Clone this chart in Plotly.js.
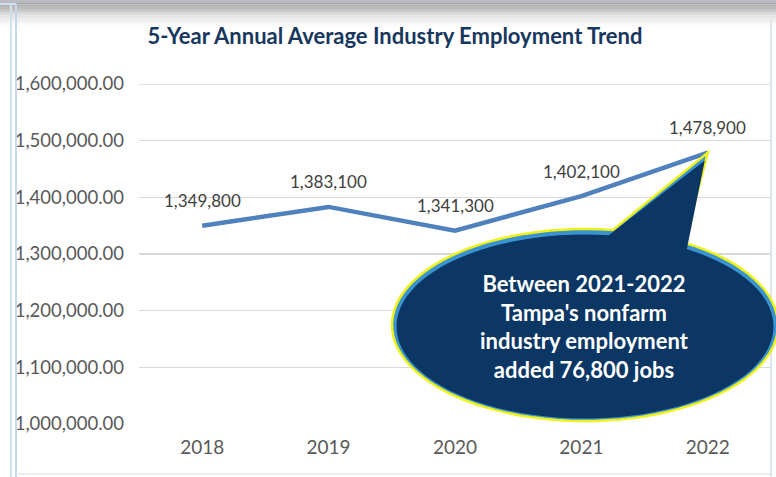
<!DOCTYPE html>
<html>
<head>
<meta charset="utf-8">
<script src="https://cdn.plot.ly/plotly-3.0.1.min.js"></script>
<style>
html,body{margin:0;padding:0;background:#fff;}
#chart{width:776px;height:477px;}
</style>
</head>
<body>
<div id="chart"></div>
<script>
// ---- data ----
var years = ['2018', '2019', '2020', '2021', '2022'];
var employment = [1349800, 1383100, 1341300, 1402100, 1478900];
var labelTexts = ['1,349,800', '1,383,100', '1,341,300', '1,402,100', '1,478,900'];
var yTicks = [1000000, 1100000, 1200000, 1300000, 1400000, 1500000, 1600000];
var titleText = '5-Year Annual Average Industry Employment Trend';
var calloutText = "Between 2021-2022<br>Tampa's nonfarm<br>industry employment<br>added 76,800 jobs";

// ---- geometry helpers (pixel -> paper) ----
var W = 776, H = 477;
var M = {l: 139, r: 5, t: 84, b: 53};
var PW = W - M.l - M.r, PH = H - M.t - M.b;
function X(px) { return (px - M.l) / PW; }
function Y(py) { return (H - M.b - py) / PH; }
var yMin = 1000000, yMax = 1600000;

// tip of callout = last data point (paper coords)
var lastIdx = years.length - 1;
var tipX = (lastIdx + 0.5) / years.length;
var tipY = (employment[lastIdx] - yMin) / (yMax - yMin);

function calloutPath(cx, cy, a, b, t0, t1, tx, ty) {
  var n = 90, s = '';
  for (var i = 0; i <= n; i++) {
    var t = t0 + (t1 - t0) * i / n;
    var px = cx + a * Math.cos(t), py = cy + b * Math.sin(t);
    s += (i === 0 ? 'M' : 'L') + X(px).toFixed(5) + ',' + Y(py).toFixed(5);
  }
  s += 'L' + tx.toFixed(5) + ',' + ty.toFixed(5) + 'Z';
  return s;
}
var tR = -1.03, tL = -1.425 + 2 * Math.PI;
var outer = calloutPath(585, 325, 193, 96, tR, tL, tipX, tipY);
var tipPxX = M.l + tipX * PW, tipPxY = H - M.b - tipY * PH;
var inner = calloutPath(585, 326.5, 188.5, 92, tR + 0.03, tL - 0.02, X(tipPxX - 3), Y(tipPxY + 8));

var shapes = [];
// top shadow band
var bandCols = ['#b9bcc4', '#a9a9a9', '#b0b0b0', '#bababa', '#c5c5c5', '#d0d0d0', '#dadada', '#e3e3e3', '#ebebeb', '#f1f1f1', '#f6f6f6', '#fafafa', '#fdfdfd'];
for (var i = 0; i < bandCols.length; i++) {
  shapes.push({type: 'rect', xref: 'paper', yref: 'paper', x0: X(0), x1: X(W), y0: Y(i * 2.2), y1: Y(i * 2.2 + 2.3),
    fillcolor: bandCols[i], line: {width: 0}, layer: 'below'});
}
// frame lines
shapes.push({type: 'line', xref: 'paper', yref: 'paper', x0: X(11), x1: X(11), y0: Y(4), y1: Y(H), line: {color: '#d3e0f0', width: 2}});
shapes.push({type: 'line', xref: 'paper', yref: 'paper', x0: X(16), x1: X(16), y0: Y(4), y1: Y(H), line: {color: '#c6d6ec', width: 2}});
shapes.push({type: 'line', xref: 'paper', yref: 'paper', x0: X(0), x1: X(16), y0: Y(4), y1: Y(4), line: {color: '#d3e0f0', width: 2}});
shapes.push({type: 'line', xref: 'paper', yref: 'paper', x0: X(771), x1: X(771), y0: Y(20), y1: Y(H), line: {color: '#dde5ef', width: 2}});
shapes.push({type: 'line', xref: 'paper', yref: 'paper', x0: X(16), x1: X(771), y0: Y(474), y1: Y(474), line: {color: '#e3e9f1', width: 1.5}});
// top gridline (at axis range edge)
shapes.push({type: 'line', xref: 'paper', yref: 'y', x0: 0, x1: 1, y0: yTicks[yTicks.length - 1], y1: yTicks[yTicks.length - 1],
  line: {color: '#d9d9d9', width: 1.3}, layer: 'below'});
// callout
shapes.push({type: 'path', xref: 'paper', yref: 'paper', path: outer, fillcolor: '#3a93cf', line: {color: '#eef21a', width: 2.5}, layer: 'above'});
shapes.push({type: 'path', xref: 'paper', yref: 'paper', path: inner, fillcolor: '#0c3764', line: {width: 0}, layer: 'above'});

var annotations = years.map(function (yr, i) {
  return {x: i, y: employment[i], xref: 'x', yref: 'y', text: labelTexts[i], showarrow: false,
    xanchor: 'center', yanchor: 'middle',
    yshift: 25, font: {family: 'Lato', size: 17, color: '#404040'}};
});
annotations.push({xref: 'paper', yref: 'paper', x: X(584), y: Y(326), xanchor: 'center', yanchor: 'middle',
  text: calloutText, showarrow: false,
  align: 'center', font: {family: 'Lato', size: 22, color: '#ffffff', weight: 'bold'}});

var trace = {
  x: years, y: employment, type: 'scatter', mode: 'lines',
  line: {color: '#4f81bd', width: 4.5}, hoverinfo: 'skip'
};

var layout = {
  width: W, height: H,
  margin: M,
  paper_bgcolor: '#ffffff', plot_bgcolor: '#ffffff',
  showlegend: false,
  title: {text: titleText, x: X(395), xanchor: 'center', xref: 'paper', y: 1 - 36 / H, yanchor: 'middle',
    font: {family: 'Lato', size: 22, color: '#17375e', weight: 'bold'}},
  xaxis: {type: 'category', range: [-0.5, 4.5], showgrid: false, zeroline: false, showline: false,
    ticks: '', ticklabelstandoff: 10, tickfont: {family: 'Lato', size: 19, color: '#595959'}, fixedrange: true},
  yaxis: {range: [yMin, yMax], tickvals: yTicks, tickformat: ',.2f', showgrid: true, gridcolor: '#d9d9d9', gridwidth: 1.3,
    zeroline: false, showline: false, ticks: '', ticklabelstandoff: 14,
    tickfont: {family: 'Lato', size: 18.5, color: '#595959'}, fixedrange: true},
  shapes: shapes,
  annotations: annotations
};

Plotly.newPlot('chart', [trace], layout, {staticPlot: true, displayModeBar: false});
</script>
</body>
</html>
